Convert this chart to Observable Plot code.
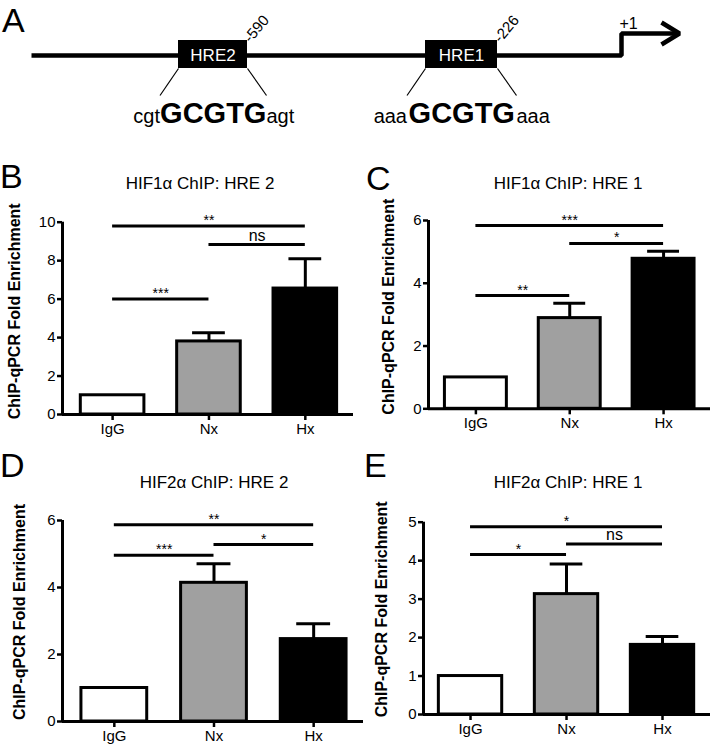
<!DOCTYPE html>
<html><head><meta charset="utf-8">
<script src="https://cdn.jsdelivr.net/npm/d3@7"></script>
<script src="https://cdn.jsdelivr.net/npm/@observablehq/plot@0.6"></script>
<style>
body{margin:0;background:#fff;}
#root{position:relative;width:712px;height:748px;overflow:hidden;font-family:"Liberation Sans",Arial,sans-serif;color:#000;}
.lab{position:absolute;font-size:34px;line-height:1;white-space:nowrap;}
.ttl{position:absolute;font-size:17px;line-height:1;white-space:nowrap;text-align:center;width:240px;}
.pl{position:absolute;}
.pl svg{display:block;}
</style></head><body><div id="root"></div>
<script>
const FONT = '"Liberation Sans", Arial, sans-serif';

// ---------- shared ----------
const categories = ["IgG", "Nx", "Hx"];
const barColors = ["#ffffff", "#a0a0a0", "#000000"];
const yLabel = "ChIP-qPCR Fold Enrichment";

// ---------- panel B ----------
const bTitle = "HIF1α ChIP: HRE 2";
const bMeans = [1.0, 3.8, 6.55];
const bErrors = [0, 0.45, 1.55];
const bTicks = [0, 2, 4, 6, 8, 10];
const bSigPairs = [[0, 2], [1, 2], [0, 1]];
const bSigHeights = [9.8, 8.84, 6.0];
const bSigLabels = ["**", "ns", "***"];

// ---------- panel C ----------
const cTitle = "HIF1α ChIP: HRE 1";
const cMeans = [1.0, 2.89, 4.78];
const cErrors = [0, 0.47, 0.24];
const cTicks = [0, 2, 4, 6];
const cSigPairs = [[0, 2], [1, 2], [0, 1]];
const cSigHeights = [5.84, 5.27, 3.61];
const cSigLabels = ["***", "*", "**"];

// ---------- panel D ----------
const dTitle = "HIF2α ChIP: HRE 2";
const dMeans = [1.0, 4.14, 2.46];
const dErrors = [0, 0.57, 0.46];
const dTicks = [0, 2, 4, 6];
const dSigPairs = [[0, 2], [1, 2], [0, 1]];
const dSigHeights = [5.87, 5.28, 4.96];
const dSigLabels = ["**", "*", "***"];

// ---------- panel E ----------
const eTitle = "HIF2α ChIP: HRE 1";
const eMeans = [1.0, 3.13, 1.81];
const eErrors = [0, 0.78, 0.22];
const eTicks = [0, 1, 2, 3, 4, 5];
const eSigPairs = [[0, 2], [1, 2], [0, 1]];
const eSigHeights = [4.88, 4.43, 4.16];
const eSigLabels = ["*", "ns", "*"];

// ---------- panel A (schematic, layout units) ----------
const hreNames = ["HRE2", "HRE1"];
const hrePositions = ["-590", "-226"];
const hreBoxStart = [178, 425];
const hreBoxEnd = [247, 497];
const hreFlankLeft = ["cgt", "aaa"];
const hreCore = ["GCGTG", "GCGTG"];
const hreFlankRight = ["agt", "aaa"];
const dnaX = [31, 621, 621, 676];
const dnaY = [55, 55, 33, 33];
const arrowX = [661, 679, 661];
const arrowY = [22, 33, 44];
const tssLabel = "+1";

const root = document.getElementById("root");
function place(node, left, top) {
  const d = document.createElement("div");
  d.className = "pl";
  d.style.left = left + "px";
  d.style.top = top + "px";
  d.appendChild(node);
  root.appendChild(d);
}
function addText(cls, text, left, top) {
  const d = document.createElement("div");
  d.className = cls;
  d.textContent = text;
  d.style.left = left + "px";
  d.style.top = top + "px";
  root.appendChild(d);
}

// ---------- Panel A ----------
const hres = hreNames.map((n, k) => ({
  name: n, pos: hrePositions[k], start: hreBoxStart[k], end: hreBoxEnd[k],
  left: hreFlankLeft[k], core: hreCore[k], right: hreFlankRight[k]
}));
const dna = dnaX.map((x, k) => ({x, y: dnaY[k]}));
const arrow = arrowX.map((x, k) => ({x, y: arrowY[k]}));
const spreadL = 18.5, spreadR = 19;
const schematic = Plot.plot({
  width: 712, height: 140,
  marginLeft: 0, marginRight: 0, marginTop: 0, marginBottom: 0,
  style: {background: "none", fontFamily: FONT, overflow: "visible"},
  x: {domain: [0, 712], range: [0, 712], axis: null},
  y: {domain: [0, 140], range: [0, 140], axis: null},
  marks: [
    Plot.line(dna, {x: "x", y: "y", stroke: "black", strokeWidth: 4.5, strokeLinejoin: "miter", strokeLinecap: "butt"}),
    Plot.line(arrow, {x: "x", y: "y", stroke: "black", strokeWidth: 4.5, strokeLinejoin: "miter", strokeLinecap: "butt"}),
    Plot.rect(hres, {x1: "start", x2: "end", y1: 40, y2: 68, fill: "black"}),
    Plot.text(hres, {x: d => (d.start + d.end) / 2, y: 55, text: "name", fill: "white", fontSize: 17}),
    Plot.text(hres, {x: d => d.end + 3, y: 43, text: "pos", rotate: -50, textAnchor: "start", lineAnchor: "bottom", fontSize: 15}),
    Plot.link(hres, {x1: "start", y1: 68, x2: d => d.start - spreadL, y2: 95, stroke: "black", strokeWidth: 1.2}),
    Plot.link(hres, {x1: "end", y1: 68, x2: d => d.end + spreadR, y2: 95, stroke: "black", strokeWidth: 1.2}),
    Plot.text(hres, {x: d => d.start - spreadL, y: 122, text: "left", textAnchor: "end", lineAnchor: "bottom", fontSize: 20}),
    Plot.text(hres, {x: d => (d.start - spreadL + d.end + spreadR) / 2, y: 122, text: "core", textAnchor: "middle", lineAnchor: "bottom", fontSize: 29, fontWeight: "bold"}),
    Plot.text(hres, {x: d => d.end + spreadR, y: 122, text: "right", textAnchor: "start", lineAnchor: "bottom", fontSize: 20}),
    Plot.text([tssLabel], {x: 619, y: 28, textAnchor: "start", lineAnchor: "bottom", fontSize: 16})
  ]
});
place(schematic, 0, 0);

// ---------- bar panels ----------
function barPanel(cfg) {
  const rows = categories.map((c, i) => ({i, cat: c, mean: cfg.means[i], err: cfg.errors[i], upper: cfg.means[i] + cfg.errors[i]}));
  const errRows = rows.filter(d => d.err > 0);
  const sig = cfg.sigLabels.map((l, k) => ({from: cfg.sigPairs[k][0], to: cfg.sigPairs[k][1], y: cfg.sigHeights[k], label: l}));
  const half = 0.33, cap = 0.17;
  return Plot.plot({
    width: cfg.width, height: cfg.height,
    marginLeft: cfg.ml, marginRight: cfg.mr, marginTop: cfg.mt, marginBottom: cfg.mb,
    style: {background: "none", fontFamily: FONT, fontSize: "15px", overflow: "visible"},
    x: {domain: cfg.xDomain},
    y: {domain: [0, cfg.yMax]},
    color: {domain: categories, range: barColors},
    marks: [
      Plot.rectY(rows, {x1: d => d.i - half, x2: d => d.i + half, y: "mean", fill: "cat", stroke: "black", strokeWidth: 3}),
      Plot.ruleX(errRows, {x: "i", y1: "mean", y2: "upper", stroke: "black", strokeWidth: 3}),
      Plot.ruleY(errRows, {y: "upper", x1: d => d.i - cap, x2: d => d.i + cap, stroke: "black", strokeWidth: 3}),
      Plot.ruleY(sig, {y: "y", x1: "from", x2: "to", stroke: "black", strokeWidth: 3}),
      Plot.text(sig.filter(d => d.label !== "ns"), {x: d => (d.from + d.to) / 2, y: "y", text: "label", textAnchor: "middle", lineAnchor: "bottom", dy: -1, fontSize: 14}),
      Plot.text(sig.filter(d => d.label === "ns"), {x: d => (d.from + d.to) / 2, y: "y", text: "label", textAnchor: "middle", lineAnchor: "bottom", dy: -4, fontSize: 16}),
      Plot.axisY({ticks: cfg.ticks, tickFormat: d => String(d), tickSize: 5, tickPadding: 2, fontSize: 15, strokeWidth: 2.5, label: null}),
      Plot.axisX({ticks: [0, 1, 2], tickFormat: i => categories[i], tickSize: 6, tickPadding: 3, fontSize: 15, strokeWidth: 2.5, label: null}),
      Plot.ruleX([cfg.xDomain[0]], {stroke: "black", strokeWidth: 3}),
      Plot.ruleY([0], {stroke: "black", strokeWidth: 3}),
      Plot.text([yLabel], {frameAnchor: "left", rotate: -90, dx: -cfg.labelOffset, dy: cfg.labelDy, textAnchor: "middle", lineAnchor: "top", fontWeight: "bold", fontSize: 16})
    ]
  });
}

place(barPanel({means: bMeans, errors: bErrors, ticks: bTicks, yMax: 10, sigPairs: bSigPairs, sigHeights: bSigHeights, sigLabels: bSigLabels,
  width: 360, height: 250, ml: 62, mr: 7, mt: 21.7, mb: 36, xDomain: [-0.52, 2.5], labelOffset: 54, labelDy: -7}), 0, 200);
place(barPanel({means: cMeans, errors: cErrors, ticks: cTicks, yMax: 6, sigPairs: cSigPairs, sigHeights: cSigHeights, sigLabels: cSigLabels,
  width: 352, height: 250, ml: 68, mr: 2, mt: 20, mb: 41.7, xDomain: [-0.505, 2.5], labelOffset: 46, labelDy: -8}), 360, 200);
place(barPanel({means: dMeans, errors: dErrors, ticks: dTicks, yMax: 6, sigPairs: dSigPairs, sigHeights: dSigHeights, sigLabels: dSigLabels,
  width: 370, height: 248, ml: 62, mr: 7, mt: 20, mb: 27, xDomain: [-0.52, 2.5], labelOffset: 49, labelDy: -9}), 0, 500);
place(barPanel({means: eMeans, errors: eErrors, ticks: eTicks, yMax: 5, sigPairs: eSigPairs, sigHeights: eSigHeights, sigLabels: eSigLabels,
  width: 352, height: 248, ml: 63, mr: 2, mt: 21.7, mb: 34, xDomain: [-0.49, 2.5], labelOffset: 48, labelDy: -9}), 360, 500);

// ---------- panel letters & titles ----------
addText("lab", "A", 2, 2.5);
addText("lab", "B", 0, 159);
addText("lab", "C", 366, 161);
addText("lab", "D", 0, 448);
addText("lab", "E", 364, 448);
addText("ttl", bTitle, 200 - 120, 175);
addText("ttl", cTitle, 568 - 120, 175);
addText("ttl", dTitle, 214 - 120, 474);
addText("ttl", eTitle, 568 - 120, 474);
</script></body></html>
